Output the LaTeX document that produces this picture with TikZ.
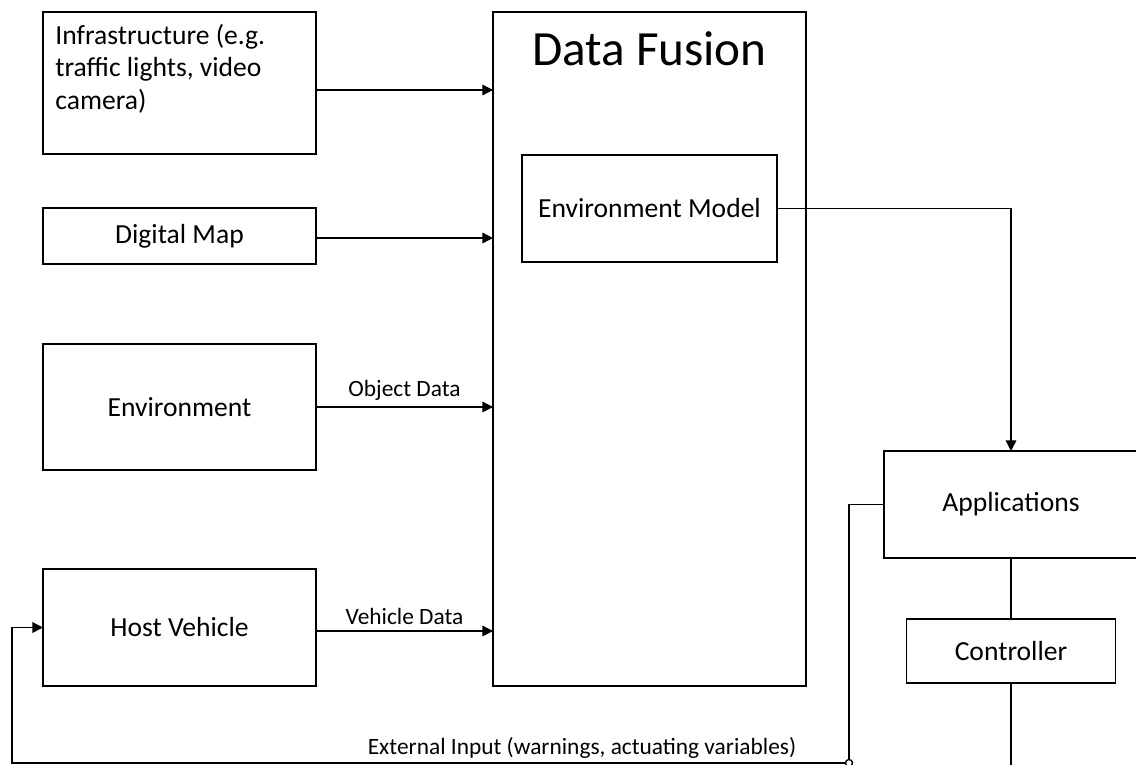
\documentclass[tikz,border=0pt]{standalone}
\usepackage{fontspec}
\setmainfont{Carlito}
\usetikzlibrary{arrows.meta,positioning}

\tikzset{
  block/.style={rectangle, draw=black, line width=0.8pt, fill=none, inner sep=0pt, outer sep=0pt},
  boxtext/.style={font=\fontsize{15.7}{18.4}\selectfont},
  smalltext/.style={font=\fontsize{13.3}{15}\selectfont},
  flow/.style={line width=0.8pt, -{Triangle[length=6pt,width=6pt]}},
  plain/.style={line width=0.8pt}
}

\begin{document}
\begin{tikzpicture}[x=0.2mm,y=-0.2mm]
\useasboundingbox (0,0) rectangle (1136,764);
% sources on the left
\node [block, minimum width=54.6mm, minimum height=28.4mm] (infra) at (179.5,83) {};
\node [boxtext, anchor=north west, align=left, inner sep=0pt] (infratext) at (55,24) {Infrastructure (e.g.\\traffic lights, video\\camera)};
\node [block, boxtext, minimum width=54.6mm, minimum height=11.2mm] (map) at (179.5,236) {Digital Map};
\node [block, boxtext, minimum width=54.6mm, minimum height=25.2mm] (env) at (179.5,407) {Environment};
\node [block, boxtext, minimum width=54.6mm, minimum height=23.4mm] (host) at (179.5,627.5) {Host Vehicle};
% fusion
\node [block, minimum width=62.6mm, minimum height=134.8mm] (fusion) at (649.5,349) {};
\node [font=\fontsize{28}{30}\selectfont, inner sep=0pt] (fusiontitle) at (649.5,49) {Data Fusion};
\node [block, boxtext, minimum width=51mm, minimum height=21.4mm] (model) at (649.5,208.5) {Environment Model};
% right column
\node [block, boxtext, minimum width=50.8mm, minimum height=21.4mm] (apps) at (1011,504.5) {Applications};
\node [block, boxtext, minimum width=41.8mm, minimum height=12.8mm] (ctrl) at (1011,651) {Controller};
\coordinate (ctrlout) at (1011,770);
\coordinate (appsleft) at (849,504.5);
\coordinate (hop) at (849,763);
\coordinate (loopleft) at (12,763);
% connectors
\draw [flow] (infra.east |- 0,90) -- (fusion.west |- 0,90);
\draw [flow] (map.east |- 0,238) -- (fusion.west |- 0,238);
\draw [flow] (env.east) -- node [smalltext, above] {Object Data} (fusion.west |- env.east);
\draw [flow] (host.east |- 0,631) -- node [smalltext, above] {Vehicle Data} (fusion.west |- 0,631);
\draw [flow] (model.east) -| (apps.north);
\draw [plain] (apps.south) -- (ctrl.north);
\draw [plain] (ctrl.south) -- (ctrlout);
\draw [flow] (apps.west) -- (appsleft) -- (hop) -- (loopleft) |- (host.west);
\draw [plain, fill=white] (hop) circle (3.5);
\node [smalltext, inner sep=0pt] (extlabel) at (582,748) {External Input (warnings, actuating variables)};
\end{tikzpicture}
\end{document}
